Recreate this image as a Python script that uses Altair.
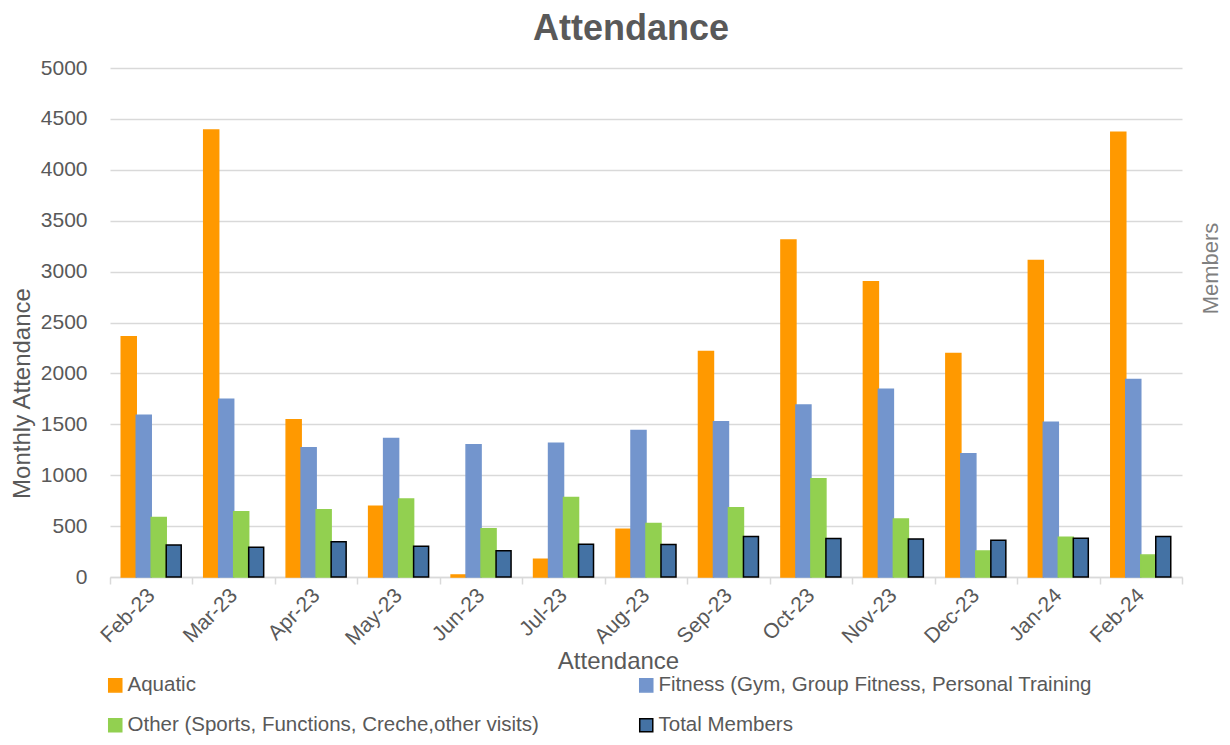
import altair as alt
import pandas as pd

months = ["Feb-23", "Mar-23", "Apr-23", "May-23", "Jun-23", "Jul-23", "Aug-23",
          "Sep-23", "Oct-23", "Nov-23", "Dec-23", "Jan-24", "Feb-24"]
series_names = ["Aquatic",
                "Fitness (Gym, Group Fitness, Personal Training",
                "Other (Sports, Functions, Creche,other visits)",
                "Total Members"]
aquatic = [2360, 4390, 1545, 695, 20, 175, 470, 2215, 3310, 2900, 2195, 3110, 4370]
fitness = [1590, 1745, 1270, 1360, 1300, 1315, 1440, 1525, 1690, 1845, 1210, 1520, 1940]
other = [585, 640, 660, 765, 475, 780, 525, 680, 965, 570, 255, 390, 215]
members = [315, 292, 347, 303, 257, 322, 320, 397, 377, 374, 360, 380, 397]
y_ticks = [0, 500, 1000, 1500, 2000, 2500, 3000, 3500, 4000, 4500, 5000]

rows = []
for i, m in enumerate(months):
    for s, vals in zip(series_names, [aquatic, fitness, other, members]):
        rows.append({"month": m, "series": s, "value": vals[i]})
df = pd.DataFrame(rows)

fills = ["#FF9900", "#7395CD", "#92D050", "#4472A4"]
strokes = ["#FF9900", "#7395CD", "#92D050", "#000000"]

FONT = "Liberation Sans"
GREY = "#595959"
GRID = "#D9D9D9"

legend = alt.Legend(
    title=None, orient="none", legendX=-5, legendY=607, direction="horizontal",
    columns=2, columnPadding=97, rowPadding=19, symbolType="square",
    symbolSize=170, symbolStrokeWidth=1.5, labelFontSize=20.5, labelFont=FONT,
    labelColor=GREY, labelLimit=700, labelOffset=2,
)

bars = alt.Chart(df).mark_bar(strokeWidth=1.5).encode(
    x=alt.X("month:N", sort=months,
            scale=alt.Scale(paddingInner=0, paddingOuter=0),
            axis=alt.Axis(title="Attendance", labelAngle=-45, labelAlign="right",
                          labelBaseline="middle", tickBand="extent", ticks=True,
                          tickSize=7, tickColor=GRID, tickWidth=1.5,
                          domainColor=GRID, domainWidth=1.5, labelPadding=8,
                          labelFontSize=21, labelFont=FONT, labelColor=GREY,
                          titleFontSize=24, titleFont=FONT, titleColor=GREY,
                          titleFontWeight="normal", titleX=508, titleY=84,
                          titleBaseline="middle", grid=False)),
    xOffset=alt.XOffset("series:N", sort=series_names,
                        scale=alt.Scale(domain=series_names, paddingInner=0, paddingOuter=0.75)),
    y=alt.Y("value:Q", scale=alt.Scale(domain=[0, 5000], nice=False),
            axis=alt.Axis(values=y_ticks, format="d", title="Monthly Attendance", ticks=False,
                          domain=False, grid=True, gridColor=GRID, gridWidth=1.5,
                          labelPadding=23, labelFontSize=21, labelFont=FONT,
                          labelColor=GREY, titleFontSize=24, titleFont=FONT,
                          titleColor=GREY, titleFontWeight="normal",
                          titleX=-88, titleY=325, titleBaseline="middle")),
    color=alt.Color("series:N", sort=series_names,
                    scale=alt.Scale(domain=series_names, range=fills), legend=legend),
    stroke=alt.Stroke("series:N", sort=series_names,
                      scale=alt.Scale(domain=series_names, range=strokes), legend=legend),
)

right = alt.Chart(df).mark_point(opacity=0).encode(
    y=alt.Y("value:Q", scale=alt.Scale(domain=[0, 5000], nice=False),
            axis=alt.Axis(orient="right", title="Members", labels=False, ticks=False,
                          domain=False, grid=False, titleFontSize=22, titleFont=FONT,
                          titleColor="#7F7F7F", titleFontWeight="normal",
                          titleAngle=270, titleX=28, titleY=200,
                          titleBaseline="middle")),
)

chart = alt.layer(bars, right).resolve_scale(y="independent").properties(
    width=1072, height=509,
    autosize=alt.AutoSizeParams(type="none"),
    padding={"left": 102, "top": 60, "right": 40, "bottom": 160},
    title=alt.TitleParams("Attendance", fontSize=36, font=FONT, fontWeight="bold",
                          color=GREY, anchor="middle", dx=-15, offset=9),
).configure_view(stroke=None)

chart.save("out.html", embed_options={"renderer": "svg", "actions": False})
